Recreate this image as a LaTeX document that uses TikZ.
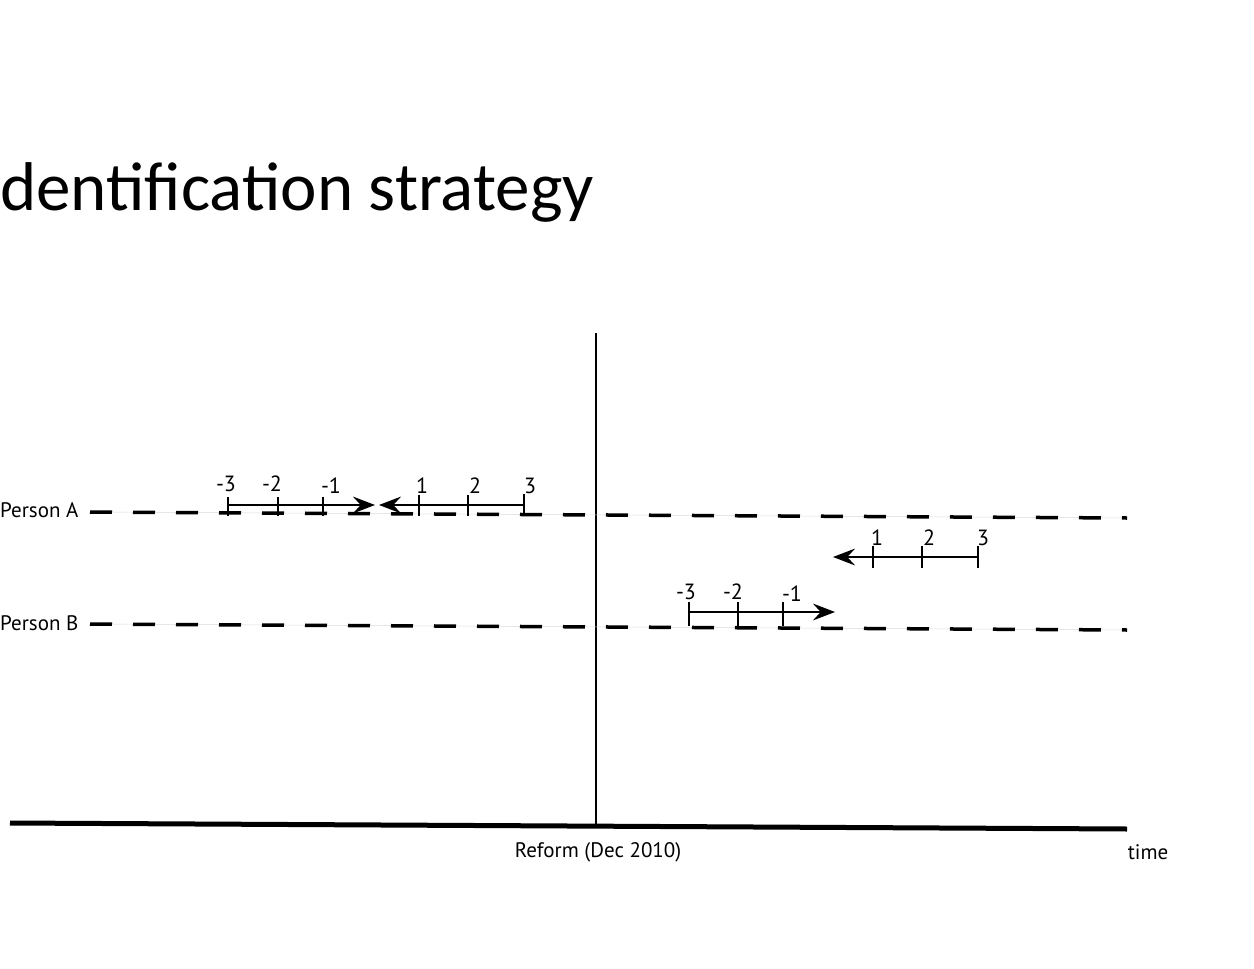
\documentclass[tikz,border=0pt]{standalone}
\usepackage{fontspec}
\setmainfont{PT Sans}
\newfontfamily\titlefont{Carlito}
\usetikzlibrary{arrows.meta}
\begin{document}
\begin{tikzpicture}[x=1pt,y=-1pt,
  lbl/.style={inner sep=0pt,font=\fontsize{21}{24}\selectfont},
  num/.style={inner sep=0pt,font=\fontsize{22}{24}\selectfont},
  person/.style={line width=3.5pt,dash pattern=on 22pt off 21pt},
  guide/.style={line width=0.5pt,black!15},
  bar/.style={line width=1.3pt},
  tick/.style={line width=1.3pt},
  tip/.style={-{Stealth[length=17pt,width=13pt,inset=6pt,scale=1.3]}}
]
\useasboundingbox (0,0) rectangle (1254,969);
\node[anchor=base west,inner sep=0pt,font=\titlefont\fontsize{69}{80}\selectfont] (title) at (0,210) {dentification strategy};

% axes
\coordinate (ax0) at (10,823);
\coordinate (ax1) at (1127,829);
\draw[line width=5pt] (ax0) -- (ax1);
\coordinate (v0) at (596,333);
\coordinate (v1) at (596,826);
\draw[line width=1.3pt] (v0) -- (v1);
\node[lbl] (reform) at (598,852) {Reform (Dec 2010)};
\node[lbl] (time) at (1148,852) {time};

% persons
\node[lbl,anchor=west] (pa) at (0,510) {Person A};
\node[lbl,anchor=west] (pb) at (0,623) {Person B};
\coordinate (a0) at (90,512);
\coordinate (a1) at (1127,518);
\coordinate (b0) at (90,624);
\coordinate (b1) at (1127,630);
\draw[guide] (a0) -- (a1);
\draw[guide] (b0) -- (b1);
\draw[person] (a0) -- (a1);
\draw[person] (b0) -- (b1);

% Person A, before group
\coordinate (g1s) at (228,505);
\coordinate (g1e) at (375,505);
\draw[bar,tip] (g1s) -- (g1e);
\foreach \x in {228,278,323}{
  \draw[tick] (\x,497) -- (\x,516);
}
\node[num] (g1a) at (226,484) {-3};
\node[num] (g1b) at (272,484) {-2};
\node[num] (g1c) at (331,486) {-1};

% Person A, after group
\coordinate (g2s) at (524,505);
\coordinate (g2e) at (379,505);
\draw[bar,tip] (g2s) -- (g2e);
\foreach \x in {419,468}{
  \draw[tick] (\x,495) -- (\x,516);
}
\draw[tick] (524,494) -- (524,514);
\node[num] (g2a) at (422,486) {1};
\node[num] (g2b) at (475,486) {2};
\node[num] (g2c) at (530,486) {3};

% upper right group
\coordinate (g3s) at (978,557);
\coordinate (g3e) at (833,557);
\draw[bar,tip] (g3s) -- (g3e);
\foreach \x in {873,922,978}{
  \draw[tick] (\x,546) -- (\x,568);
}
\node[num] (g3a) at (877,538) {1};
\node[num] (g3b) at (929,538) {2};
\node[num] (g3c) at (983,538) {3};

% Person B group
\coordinate (g4s) at (689,612);
\coordinate (g4e) at (835,612);
\draw[bar,tip] (g4s) -- (g4e);
\foreach \x in {689,738,783}{
  \draw[tick] (\x,602) -- (\x,626);
}
\node[num] (g4a) at (686,592) {-3};
\node[num] (g4b) at (733,592) {-2};
\node[num] (g4c) at (792,594) {-1};
\end{tikzpicture}
\end{document}
